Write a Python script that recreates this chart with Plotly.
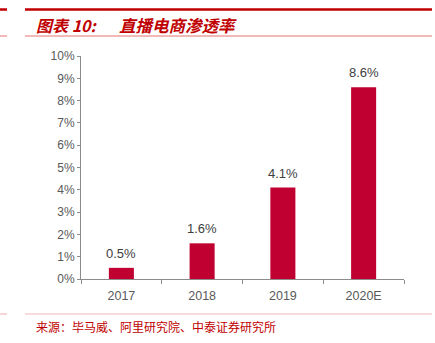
import plotly.graph_objects as go

categories = ["2017", "2018", "2019", "2020E"]
values = [0.5, 1.6, 4.1, 8.6]
labels = ["0.5%", "1.6%", "4.1%", "8.6%"]
y_ticks = list(range(0, 11))
y_tick_text = [f"{v}%" for v in y_ticks]

W, H = 435, 343
L, R, T, B = 81, 31, 56, 64
pw = W - L - R
ph = H - T - B

def px(x):
    return (x - L) / pw

def py(y):
    return (H - B - y) / ph

fig = go.Figure()
fig.add_trace(go.Bar(
    x=categories, y=values, width=0.31,
    marker=dict(color="#C00030", line=dict(width=0)),
))

shapes = []
def hline(x0, x1, y, color, w):
    shapes.append(dict(type="line", xref="paper", yref="paper",
                       x0=px(x0), x1=px(x1), y0=py(y), y1=py(y),
                       line=dict(color=color, width=w)))

hline(25, 432, 9.5, "#C00000", 2.5)
hline(0, 7, 9.5, "#C00000", 2.5)
hline(25, 432, 36, "#E57373", 1)
hline(0, 7, 36, "#E57373", 1)
hline(25, 432, 314, "#F2B8B8", 1.2)
hline(0, 7, 314, "#F2B8B8", 1.2)

annotations = [
    dict(text="<b><i>图表 10:</i></b>", xref="paper", yref="paper",
         x=px(34), y=py(25), xanchor="left", yanchor="middle", showarrow=False,
         font=dict(family="Noto Sans CJK SC", size=16, color="#C00000")),
    dict(text="<b><i>直播电商渗透率</i></b>", xref="paper", yref="paper",
         x=px(117), y=py(25), xanchor="left", yanchor="middle", showarrow=False,
         font=dict(family="Noto Sans CJK SC", size=16.5, color="#C00000")),
    dict(text="来源：毕马威、阿里研究院、中泰证券研究所", xref="paper", yref="paper",
         x=px(34), y=py(326), xanchor="left", yanchor="middle", showarrow=False,
         font=dict(family="Noto Sans CJK SC", size=12, color="#C00000")),
]
for i, (v, t) in enumerate(zip(values, labels)):
    annotations.append(dict(
        x=i, y=v, xref="x", yref="y", text=t, showarrow=False,
        yanchor="bottom", yshift=5,
        font=dict(family="Liberation Sans, Arial", size=13, color="#404040"),
    ))

fig.update_layout(
    width=W, height=H,
    margin=dict(l=L, r=R, t=T, b=B),
    paper_bgcolor="white", plot_bgcolor="white",
    showlegend=False,
    shapes=shapes, annotations=annotations,
)
fig.update_xaxes(
    type="category", range=[-0.5, len(categories) - 0.5],
    showline=True, linecolor="#8C8C8C", linewidth=1,
    ticks="outside", tickson="boundaries", ticklen=4, tickcolor="#8C8C8C",
    ticklabelstandoff=5,
    tickfont=dict(family="Liberation Sans, Arial", size=12.5, color="#595959"),
    showgrid=False, zeroline=False,
)
fig.update_yaxes(
    range=[0, 10], tickvals=y_ticks, ticktext=y_tick_text,
    showline=True, linecolor="#8C8C8C", linewidth=1,
    ticks="outside", ticklen=3, tickcolor="#8C8C8C",
    tickfont=dict(family="Liberation Sans, Arial", size=12, color="#595959"),
    showgrid=False, zeroline=False,
)
fig.write_html("out.html")
